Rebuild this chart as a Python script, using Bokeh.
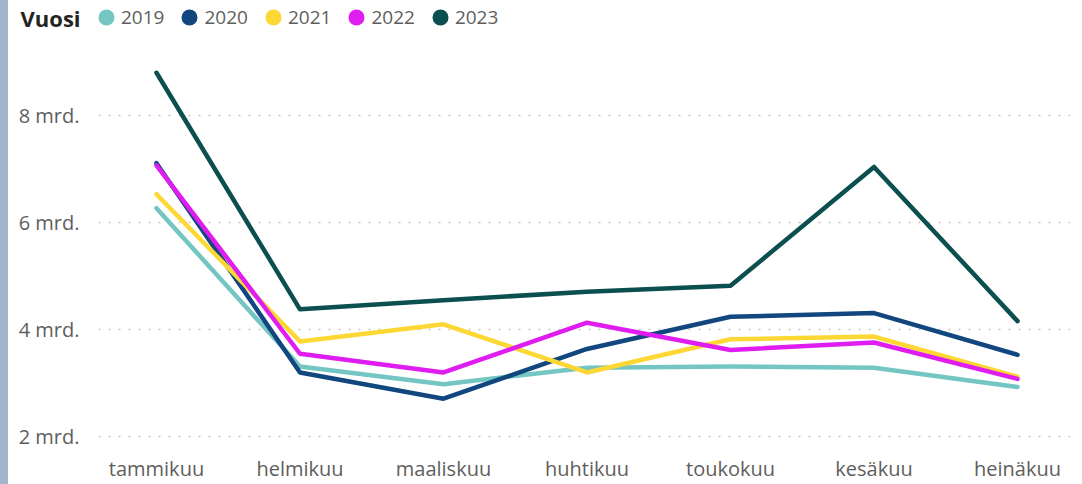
from bokeh.plotting import figure
from bokeh.models import (Legend, LegendItem, Label, FixedTicker, Range1d, Div,
                          ColumnDataSource, Plot)
from bokeh.layouts import row, column
from bokeh.embed import file_html
from bokeh.resources import INLINE

months = ["tammikuu", "helmikuu", "maaliskuu", "huhtikuu", "toukokuu", "kesäkuu", "heinäkuu"]
years = ["2019", "2020", "2021", "2022", "2023"]
v2019 = [6.27, 3.31, 2.98, 3.29, 3.31, 3.29, 2.93]
v2020 = [7.11, 3.20, 2.71, 3.64, 4.24, 4.31, 3.53]
v2021 = [6.53, 3.78, 4.10, 3.20, 3.82, 3.87, 3.12]
v2022 = [7.07, 3.55, 3.20, 4.13, 3.62, 3.76, 3.08]
v2023 = [8.80, 4.38, 4.55, 4.71, 4.82, 7.04, 4.16]
series = [v2019, v2020, v2021, v2022, v2023]
colors = ["#74C6C2", "#12467F", "#FDD835", "#E01DF0", "#0B4F4F"]
y_ticks = [2, 4, 6, 8]
y_labels = ["2 mrd.", "4 mrd.", "6 mrd.", "8 mrd."]

FONT = "Open Sans"
GREY = "#605E5C"

# ---- main chart ----
p = figure(width=1074, height=439, output_backend="svg", toolbar_location=None,
           x_range=Range1d(-0.404, 6.369), y_range=Range1d(1.8545, 9.309),
           min_border_left=90, min_border_right=12, min_border_top=0, min_border_bottom=29)
p.outline_line_color = None
p.background_fill_color = "white"
p.border_fill_color = "white"

xs = list(range(len(months)))
for yr, vals, c in zip(years, series, colors):
    src = ColumnDataSource(dict(x=xs, y=vals))
    p.line("x", "y", source=src, line_color=c, line_width=4.5, line_join="round", line_cap="round")

p.xaxis.ticker = FixedTicker(ticks=xs)
p.xaxis.major_label_overrides = {i: m for i, m in enumerate(months)}
p.yaxis.ticker = FixedTicker(ticks=y_ticks)
p.yaxis.major_label_overrides = {t: l for t, l in zip(y_ticks, y_labels)}
for ax in (p.xaxis, p.yaxis):
    ax.axis_line_color = None
    ax.major_tick_line_color = None
    ax.minor_tick_line_color = None
    ax.major_label_text_font = FONT
    ax.major_label_text_font_size = "20px"
    ax.major_label_text_color = GREY
p.xaxis.major_label_standoff = 4
p.yaxis.major_label_standoff = 13

p.xgrid.grid_line_color = None
p.ygrid.grid_line_color = "#C8C6C4"
p.ygrid.grid_line_width = 1.5
p.ygrid.grid_line_dash = "2 8"

# ---- legend header ----
h = figure(width=1074, height=45, output_backend="svg", toolbar_location=None,
           x_axis_type=None, y_axis_type=None, x_range=Range1d(0, 1), y_range=Range1d(0, 1),
           min_border_left=0, min_border_right=0, min_border_top=0, min_border_bottom=0)
if "frame_align" in Plot.properties():
    h.frame_align = False
h.outline_line_color = None
h.xgrid.grid_line_color = None
h.ygrid.grid_line_color = None
nan = float("nan")
items = []
for yr, c in zip(years, colors):
    dummy = h.scatter(x=[nan], y=[nan], marker="circle", size=12, fill_color=c,
                      line_color=c, line_width=4)
    items.append(LegendItem(label=yr, renderers=[dummy]))
legend = Legend(items=items, orientation="horizontal", location=(83, 13),
                glyph_width=30, glyph_height=30, label_standoff=-1, spacing=10,
                padding=0, margin=0, border_line_alpha=0, background_fill_alpha=0,
                label_text_font=FONT, label_text_font_size="19px", label_text_color=GREY)
h.add_layout(legend, "center")
h.add_layout(Label(x=12, y=28, x_units="screen", y_units="screen", text="Vuosi",
                   text_font=FONT, text_font_size="22px", text_font_style="bold",
                   text_color="#252423", text_baseline="middle"))

bar = Div(text="", width=8, height=484, margin=0,
          styles={"background-color": "#A3B5CC", "padding": "0px"})
layout = row(bar, column(h, p, spacing=0, margin=0), spacing=0, margin=0)

open("out.html", "w").write(file_html(layout, INLINE))
